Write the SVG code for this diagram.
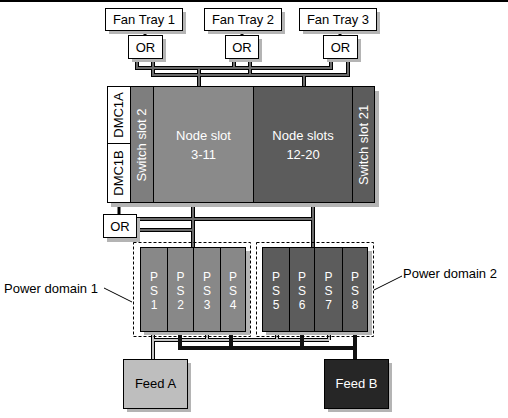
<svg xmlns="http://www.w3.org/2000/svg" width="508" height="418" viewBox="0 0 508 418">
<defs>
<style>
text{font-family:"Liberation Sans",Arial,sans-serif;font-size:13px}
.c{text-anchor:middle}
.w{fill:#fff}
.ps{font-size:12px;fill:#fff;text-anchor:middle}
.box{stroke:#000;stroke-width:1}
.sh{fill:#b4b4b4}
.po{fill:none;stroke:#000;stroke-width:4}
.pi{fill:none;stroke:#6a6a6a;stroke-width:2}
.lo{fill:none;stroke:#000;stroke-width:4}
.li{fill:none;stroke:#c4c4c4;stroke-width:2}
.dk{fill:none;stroke:#111;stroke-width:4}
.blk{stroke:#000;stroke-width:3}
.dash{fill:none;stroke:#000;stroke-width:1;stroke-dasharray:3,2}
</style>
</defs>
<rect width="508" height="418" fill="#fff"/>
<line x1="0" y1="1" x2="508" y2="1" stroke="#000" stroke-width="2"/>

<g id="connectors">
  <line class="blk" x1="145" y1="30" x2="145" y2="36"/>
  <line class="blk" x1="242" y1="30" x2="242" y2="36"/>
  <line class="blk" x1="340" y1="30" x2="340" y2="36"/>
  <path class="po" d="M137 58V68H331V58M234 58V68M153 58V75H348V58M250 58V75M199 68V87M304 75V87"/>
  <path class="pi" d="M137 58V68H331V58M234 58V68M153 58V75H348V58M250 58V75M199 68V87M304 75V87"/>
  <line class="blk" x1="119" y1="203" x2="119" y2="214"/>
  <path class="po" d="M136 219H313M136 230H193M193 203V247M313 203V247"/>
  <path class="pi" d="M136 219H313M136 230H193M193 203V247M313 203V247"/>
  <path class="lo" d="M153 331V359M153 340H329M207 331V340M277 331V340M329 331V340"/>
  <path class="li" d="M153 331V359M153 340H329M207 331V340M277 331V340M329 331V340"/>
  <path class="dk" d="M180 331V348H355M231 331V348M302 331V348M355 331V359"/>
</g>

<g id="fan-tray-1">
  <rect class="sh" x="109" y="12" width="77" height="22"/>
  <rect class="box" x="105.5" y="8.5" width="77" height="22" fill="#fff"/>
  <text class="c" x="144" y="24">Fan Tray 1</text>
</g>
<g id="fan-tray-2">
  <rect class="sh" x="208" y="12" width="77" height="22"/>
  <rect class="box" x="204.5" y="8.5" width="77" height="22" fill="#fff"/>
  <text class="c" x="243" y="24">Fan Tray 2</text>
</g>
<g id="fan-tray-3">
  <rect class="sh" x="303" y="12" width="77" height="22"/>
  <rect class="box" x="299.5" y="8.5" width="77" height="22" fill="#fff"/>
  <text class="c" x="338" y="24">Fan Tray 3</text>
</g>

<g id="or-1">
  <rect class="sh" x="132" y="39" width="34" height="23"/>
  <rect class="box" x="128.5" y="35.5" width="34" height="23" fill="#fff"/>
  <text class="c" x="145.5" y="52">OR</text>
</g>
<g id="or-2">
  <rect class="sh" x="229" y="39" width="33" height="23"/>
  <rect class="box" x="225.5" y="35.5" width="33" height="23" fill="#fff"/>
  <text class="c" x="242" y="52">OR</text>
</g>
<g id="or-3">
  <rect class="sh" x="327" y="39" width="34" height="23"/>
  <rect class="box" x="323.5" y="35.5" width="34" height="23" fill="#fff"/>
  <text class="c" x="340.5" y="52">OR</text>
</g>

<g id="chassis">
  <rect class="sh" x="111" y="91" width="268" height="116"/>
  <rect class="box" x="107.5" y="86.5" width="23" height="116" fill="#fff"/>
  <line x1="107.5" y1="143.5" x2="130.5" y2="143.5" stroke="#000"/>
  <text class="c" transform="translate(123,115) rotate(-90)">DMC1A</text>
  <text class="c" transform="translate(123,173) rotate(-90)">DMC1B</text>
  <rect class="box" x="130.5" y="86.5" width="23" height="116" fill="#7e7e7e"/>
  <text class="c w" transform="translate(146,145) rotate(-90)">Switch slot 2</text>
  <rect class="box" x="153.5" y="86.5" width="100" height="116" fill="#8a8a8a"/>
  <text class="c w" x="203.5" y="140">Node slot</text>
  <text class="c w" x="203.5" y="159">3-11</text>
  <rect class="box" x="253.5" y="86.5" width="99" height="116" fill="#5c5c5c"/>
  <text class="c w" x="303" y="140">Node slots</text>
  <text class="c w" x="303" y="159">12-20</text>
  <rect class="box" x="352.5" y="86.5" width="22" height="116" fill="#5c5c5c"/>
  <text class="c w" transform="translate(368,145) rotate(-90)">Switch slot 21</text>
</g>

<g id="or-4">
  <rect class="sh" x="107" y="218" width="33" height="24"/>
  <rect class="box" x="103.5" y="214.5" width="33" height="23" fill="#fff"/>
  <text class="c" x="120" y="231">OR</text>
</g>

<g id="power-domain-1">
  <rect class="dash" x="133.5" y="242.5" width="117" height="94"/>
  <rect class="sh" x="144" y="251" width="106" height="84"/>
  <rect class="box" x="140.5" y="247.5" width="27" height="84" fill="#888"/>
  <rect class="box" x="167.5" y="247.5" width="26" height="84" fill="#888"/>
  <rect class="box" x="193.5" y="247.5" width="27" height="84" fill="#888"/>
  <rect class="box" x="220.5" y="247.5" width="25" height="84" fill="#888"/>
  <text class="ps" x="154" y="281">P</text><text class="ps" x="154" y="295">S</text><text class="ps" x="154" y="309">1</text>
  <text class="ps" x="180.5" y="281">P</text><text class="ps" x="180.5" y="295">S</text><text class="ps" x="180.5" y="309">2</text>
  <text class="ps" x="207" y="281">P</text><text class="ps" x="207" y="295">S</text><text class="ps" x="207" y="309">3</text>
  <text class="ps" x="233" y="281">P</text><text class="ps" x="233" y="295">S</text><text class="ps" x="233" y="309">4</text>
  <text x="4" y="293">Power domain 1</text>
  <line x1="104" y1="288" x2="132" y2="302" stroke="#000" stroke-width="1"/>
</g>

<g id="power-domain-2">
  <rect class="dash" x="256.5" y="242.5" width="117" height="94"/>
  <rect class="sh" x="266" y="251" width="106" height="84"/>
  <rect class="box" x="262.5" y="247.5" width="27" height="84" fill="#5c5c5c"/>
  <rect class="box" x="289.5" y="247.5" width="25" height="84" fill="#5c5c5c"/>
  <rect class="box" x="314.5" y="247.5" width="28" height="84" fill="#5c5c5c"/>
  <rect class="box" x="342.5" y="247.5" width="25" height="84" fill="#5c5c5c"/>
  <text class="ps" x="276" y="281">P</text><text class="ps" x="276" y="295">S</text><text class="ps" x="276" y="309">5</text>
  <text class="ps" x="302" y="281">P</text><text class="ps" x="302" y="295">S</text><text class="ps" x="302" y="309">6</text>
  <text class="ps" x="328.5" y="281">P</text><text class="ps" x="328.5" y="295">S</text><text class="ps" x="328.5" y="309">7</text>
  <text class="ps" x="355" y="281">P</text><text class="ps" x="355" y="295">S</text><text class="ps" x="355" y="309">8</text>
  <text x="403" y="278">Power domain 2</text>
  <line x1="374" y1="290" x2="402" y2="276" stroke="#000" stroke-width="1"/>
</g>

<g id="feed-a">
  <rect class="sh" x="127" y="363" width="64" height="49"/>
  <rect class="box" x="123.5" y="359.5" width="64" height="49" fill="#bebebe"/>
  <text class="c" x="155.5" y="388">Feed A</text>
</g>
<g id="feed-b">
  <rect class="sh" x="328" y="363" width="64" height="49"/>
  <rect class="box" x="324.5" y="359.5" width="64" height="49" fill="#262626"/>
  <text class="c w" x="356.5" y="388">Feed B</text>
</g>
</svg>
